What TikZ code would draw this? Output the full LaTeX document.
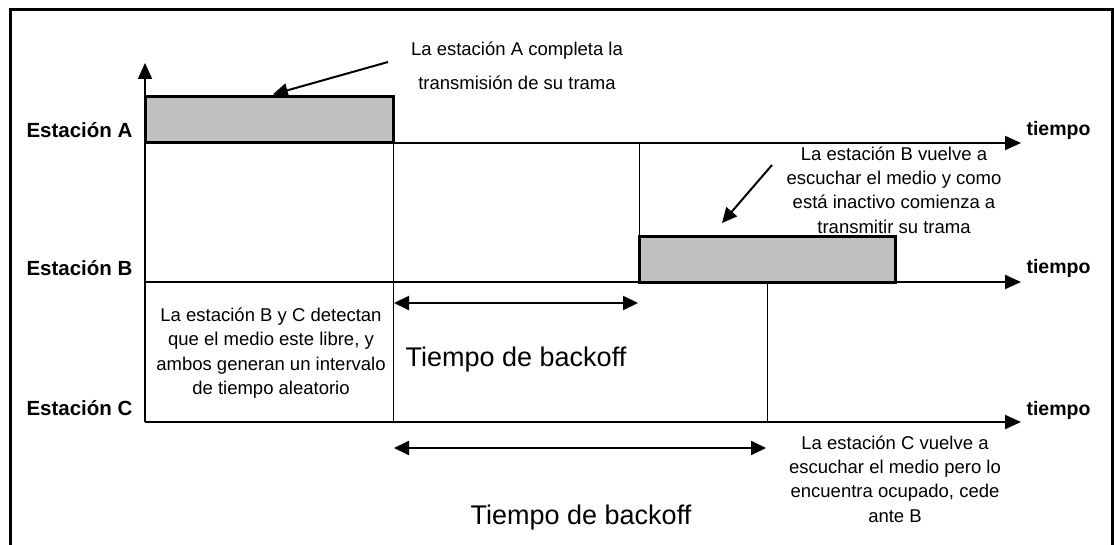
\documentclass[tikz,border=0pt]{standalone}
\usepackage{fontspec}
\setmainfont{Liberation Sans}
\usetikzlibrary{arrows.meta}
\definecolor{grisTrama}{HTML}{C0C0C0}
\tikzset{
  eje/.style={line width=2pt, -{Triangle[length=16pt,width=14pt]}},
  flecha/.style={line width=2pt, -{Triangle[length=15pt,width=14pt]}},
  dflecha/.style={line width=2pt, {Triangle[length=15pt,width=14pt]}-{Triangle[length=15pt,width=14pt]}},
  trama/.style={draw, line width=3pt, fill=grisTrama, inner sep=0pt},
  estacion/.style={anchor=east, font=\fontsize{20.5}{24}\selectfont\bfseries},
  tiempo/.style={anchor=west, font=\fontsize{19.5}{24}\selectfont\bfseries},
  nota/.style={align=center, font=\fontsize{18.5}{24.4}\selectfont},
  backoff/.style={font=\fontsize{27}{32}\selectfont}
}
\begin{document}
\begin{tikzpicture}[x=1pt,y=-1pt]
  \useasboundingbox (0,0) rectangle (1115,545);
  \draw[line width=3pt] (10,548) -- (10,10) -- (1112,10) -- (1112,548);
  \coordinate (O) at (145,422);
  \coordinate (Y) at (145,63);
  \coordinate (A0) at (145,143);
  \coordinate (A1) at (1021,143);
  \coordinate (B0) at (145,282);
  \coordinate (B1) at (1021,282);
  \coordinate (C1) at (1021,422);
  \node[estacion] (estA) at (136,130) {Estación A};
  \node[estacion] (estB) at (136,268) {Estación B};
  \node[estacion] (estC) at (136,408) {Estación C};
  \node[tiempo] (tA) at (1023,130) {tiempo};
  \node[tiempo] (tB) at (1023,268) {tiempo};
  \node[tiempo] (tC) at (1023,410) {tiempo};
  \draw[line width=1pt] (393,143) -- (393,422);
  \draw[line width=1pt] (639,143) -- (639,237);
  \draw[line width=1pt] (767,282) -- (767,422);
  \draw[eje] (O) -- (Y);
  \draw[eje] (A0) -- (A1);
  \draw[eje] (B0) -- (B1);
  \draw[eje] (O) -- (C1);
  \node[trama, minimum width=248pt, minimum height=46pt] (tramaA) at (269,120) {};
  \node[trama, minimum width=256pt, minimum height=45pt] (tramaB) at (767,259.5) {};
  \node[nota, font=\fontsize{18.5}{34}\selectfont] (notaA) at (517,66) {La estación A completa la\\transmisión de su trama};
  \node[nota] (notaB) at (894,190) {La estación B vuelve a\\escuchar el medio y como\\está inactivo comienza a\\transmitir su trama};
  \node[nota] (notaBC) at (271,353) {La estación B y C detectan\\que el medio este libre, y\\ambos generan un intervalo\\de tiempo aleatorio};
  \node[nota] (notaC) at (895,479) {La estación C vuelve a\\escuchar el medio pero lo\\encuentra ocupado, cede\\ante B};
  \coordinate (fA) at (388,62);
  \coordinate (fB0) at (772,165);
  \coordinate (fB1) at (722,223);
  \draw[flecha, shorten >=4pt] (fA) -- (tramaA.north);
  \draw[flecha] (fB0) -- (fB1);
  \coordinate (bB0) at (394,303);
  \coordinate (bB1) at (638,303);
  \coordinate (bC0) at (394,448);
  \coordinate (bC1) at (766,448);
  \draw[dflecha] (bB0) -- (bB1);
  \draw[dflecha] (bC0) -- (bC1);
  \node[backoff] (backB) at (516,360) {Tiempo de backoff};
  \node[backoff] (backC) at (581,518) {Tiempo de backoff};
\end{tikzpicture}
\end{document}
